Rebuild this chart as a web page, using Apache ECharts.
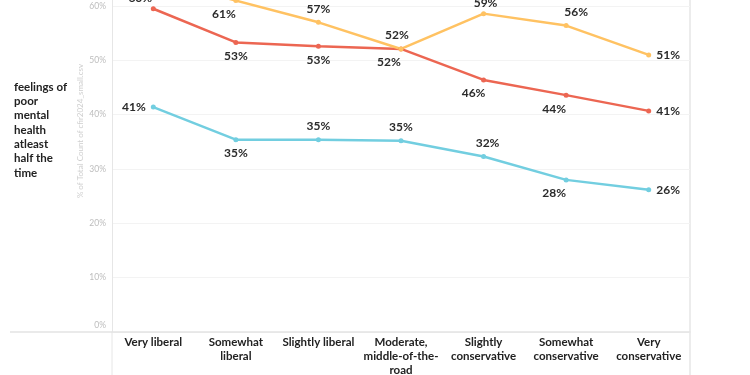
<!DOCTYPE html>
<html><head><meta charset="utf-8">
<script src="https://cdn.jsdelivr.net/npm/echarts@6/dist/echarts.min.js"></script>
<style>html,body{margin:0;padding:0;background:#fff}#c{width:750px;height:375px}</style>
</head><body><div id="c"></div>
<script>
const categories = ['Very liberal','Somewhat\nliberal','Slightly liberal','Moderate,\nmiddle-of-the-\nroad','Slightly\nconservative','Somewhat\nconservative','Very\nconservative'];
const redValues = [59.5, 53.3, 52.6, 52.1, 46.4, 43.6, 40.7];
const yellowValues = [65.0, 61.0, 57.0, 52.1, 58.6, 56.4, 51.0];
const blueValues = [41.4, 35.4, 35.4, 35.2, 32.3, 28.0, 26.2];
const yTicks = [0, 10, 20, 30, 40, 50, 60, 70];

// label placement (style only)
const redPos = [['top',[-13,3]],['bottom',[0,0]],['bottom',[0,0]],['bottom',[-12,0]],['bottom',[-10,0]],['bottom',[-12,0]],['right',[0,0]]];
const yellowPos = [['top',[0,0]],['bottom',[-12,0]],['top',[0,0]],['top',[-4,0]],['top',[2,3]],['top',[10,0]],['right',[0,0]]];
const bluePos = [['left',[0,0]],['bottom',[0,0]],['top',[0,0]],['top',[0,0]],['top',[4,0]],['bottom',[-12,0]],['right',[0,0]]];

function build(vals, pos){
  return vals.map((v,i)=>({value:v, label:{position:pos[i][0], offset:pos[i][1]}}));
}
const labelStyle = {show:true, formatter:p=>Math.round(p.value)+'%', color:'#2b2b2b', fontFamily:'Lato', fontWeight:'bold', fontSize:12};

const chart = echarts.init(document.getElementById('c'));
function series(name, vals, pos, color){
  return {name, type:'line', data:build(vals,pos), symbol:'circle', symbolSize:5,
    lineStyle:{width:2.5,color}, itemStyle:{color}, label:labelStyle, z:3, clip:false, animation:false};
}
chart.setOption({
  animation:false,
  grid:{left:112, right:60, top:-48.3, bottom:43, outerBoundsMode:'none', containLabel:false},
  xAxis:{type:'category', data:categories, boundaryGap:true,
    axisLine:{show:true, lineStyle:{color:'#e3e3e3', width:1.5}}, axisTick:{show:false},
    axisLabel:{interval:0, color:'#222', fontFamily:'Lato', fontWeight:'bold', fontSize:11.5, lineHeight:14, margin:3}},
  yAxis:{type:'value', min:yTicks[0], max:yTicks[yTicks.length-1], interval:10,
    axisLine:{show:true, lineStyle:{color:'#e6e6e6'}}, axisTick:{show:false},
    splitLine:{lineStyle:{color:'#f3f3f3'}},
    axisLabel:{formatter:v=> v===0 ? '{z|0%}' : v+'%', color:'#bdbdbd', fontFamily:'Lato', fontSize:8.5, margin:6,
      rich:{z:{color:'#bdbdbd', fontFamily:'Lato', fontSize:8.5, padding:[0,0,14,0]}}}},
  series:[
    series('Red', redValues, redPos, '#EC6652'),
    series('Yellow', yellowValues, yellowPos, '#FFC262'),
    series('Blue', blueValues, bluePos, '#72CEE0')
  ],
  graphic:[
    {type:'line', shape:{x1:10,y1:332,x2:112,y2:332}, style:{stroke:'#e3e3e3', lineWidth:1.5}, silent:true},
    {type:'line', shape:{x1:112,y1:332,x2:112,y2:375}, style:{stroke:'#e6e6e6', lineWidth:1}, silent:true},
    {type:'line', shape:{x1:690,y1:0,x2:690,y2:375}, style:{stroke:'#e6e6e6', lineWidth:1.5}, silent:true},
    {type:'text', left:14, top:80, style:{text:'feelings of\npoor\nmental\nhealth\natleast\nhalf the\ntime', fill:'#222', font:'bold 11.5px Lato', lineHeight:14.3}},
    {type:'text', x:80, y:131, rotation:Math.PI/2, style:{text:'% of Total Count of cfir2024_small.csv', fill:'#cfcfcf', font:'8px Lato', align:'center', verticalAlign:'middle'}}
  ]
});
</script></body></html>
